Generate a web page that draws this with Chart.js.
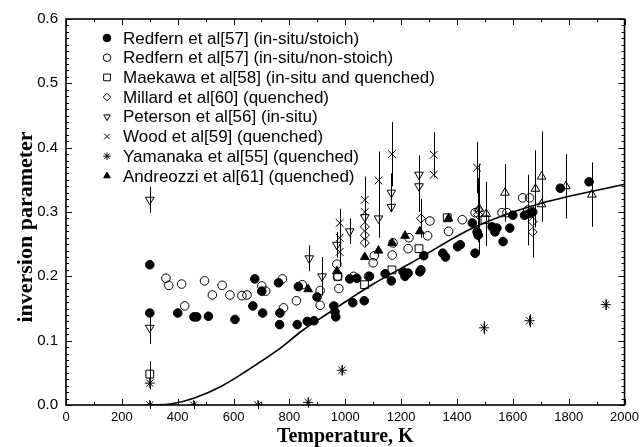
<!DOCTYPE html>
<html><head><meta charset="utf-8">
<script src="https://cdn.jsdelivr.net/npm/chart.js@4/dist/chart.umd.min.js"></script>
<style>html,body{margin:0;padding:0;background:#fff}canvas{display:block}</style>
</head><body>
<canvas id="c" width="644" height="447"></canvas>
<script>
// ---------- tick labels / titles ----------
const xTickValues = [0,200,400,600,800,1000,1200,1400,1600,1800,2000];
const yTickValues = [0.0,0.1,0.2,0.3,0.4,0.5,0.6];
const xTitle = 'Temperature, K';
const yTitle = 'inversion parameter';

// ---------- series ----------
const labels = [
  'Redfern et al[57] (in-situ/stoich)',
  'Redfern et al[57] (in-situ/non-stoich)',
  'Maekawa et al[58] (in-situ and quenched)',
  'Millard et al[60] (quenched)',
  'Peterson et al[56] (in-situ)',
  'Wood et al[59] (quenched)',
  'Yamanaka et al[55] (quenched)',
  'Andreozzi et al[61] (quenched)'
];

const redfernStoichT = [300,300,400,458,468,510,605,669,676,701,704,761,766,765,828,832,864,888,899,959,963,966,1016,1027,1041,1068,1087,1143,1165,1207,1214,1225,1267,1271,1281,1349,1359,1402,1412,1455,1465,1472,1476,1526,1536,1543,1565,1589,1600,1642,1660,1671,1770,1873];
const redfernStoichY = [0.218,0.143,0.143,0.137,0.137,0.138,0.133,0.154,0.196,0.177,0.143,0.190,0.143,0.125,0.125,0.184,0.130,0.131,0.168,0.154,0.145,0.137,0.196,0.159,0.197,0.162,0.200,0.204,0.193,0.207,0.200,0.205,0.207,0.210,0.232,0.236,0.230,0.246,0.249,0.283,0.236,0.269,0.264,0.277,0.269,0.275,0.254,0.275,0.295,0.295,0.298,0.300,0.337,0.347];

const redfernNonT = [358,368,414,425,496,524,559,587,630,648,701,715,775,779,825,846,910,910,970,973,977,1030,1083,1100,1104,1168,1171,1225,1228,1295,1303,1370,1419,1465,1561,1579,1635,1653,1660];
const redfernNonY = [0.197,0.186,0.188,0.154,0.193,0.171,0.186,0.171,0.170,0.171,0.185,0.177,0.196,0.151,0.162,0.187,0.178,0.155,0.219,0.200,0.181,0.200,0.200,0.221,0.232,0.233,0.252,0.243,0.260,0.263,0.286,0.270,0.288,0.299,0.299,0.299,0.322,0.303,0.322];
const redfernNonErr = [0,0,0,0,0,0,0,0,0,0,0,0,0,0,0,0,0,0,0,0,0,0,0,0,0,0,0,0,0,0,0,0,0,0,0,0,0,0.055,0];

const maekawaT = [300,973,1069,1167,1264,1365,1500];
const maekawaY = [0.048,0.200,0.187,0.210,0.243,0.291,0.288];
const maekawaErr = [0.02,0,0,0,0,0,0];

const millardT = [1070,1070,1070,1271,1476,1476,1671,1671];
const millardY = [0.277,0.264,0.252,0.290,0.303,0.296,0.285,0.269];
const millardErr = [0,0,0,0.03,0.05,0,0,0.04];

const petersonT = [300,300,871,917,970,1016,1070,1119,1165,1165,1264,1264];
const petersonY = [0.319,0.120,0.228,0.200,0.249,0.270,0.292,0.290,0.330,0.308,0.358,0.340];
const petersonErr = [0.02,0.025,0.02,0.03,0.02,0.02,0,0.03,0.03,0,0.03,0.04];

const woodT = [980,980,980,1070,1070,1119,1167,1317,1317,1472];
const woodY = [0.283,0.260,0.238,0.319,0.300,0.349,0.390,0.389,0.358,0.369];
const woodErr = [0,0.045,0,0,0.055,0.045,0.05,0.035,0,0.04];

const yamanakaT = [300,300,457,687,867,988,1497,1660,1933];
const yamanakaY = [0.000,0.034,0.000,0.000,0.004,0.054,0.120,0.131,0.156];
const yamanakaErr = [0.006,0.01,0.006,0.006,0.008,0.008,0.01,0.01,0.008];

const andreozziT = [867,970,1070,1119,1168,1214,1267,1370];
const andreozziY = [0.180,0.208,0.230,0.240,0.252,0.263,0.270,0.290];

const openTriT = [1480,1505,1572,1681,1703,1703,1790,1883];
const openTriY = [0.305,0.297,0.330,0.336,0.355,0.312,0.340,0.327];
const openTriErr = [0.07,0.05,0.045,0.06,0.07,0,0.05,0.05];

const curveT = [300,380,460,560,650,760,850,940,1020,1100,1240,1460,1680,2000];
const curveY = [0,0.002,0.011,0.030,0.054,0.086,0.117,0.143,0.166,0.188,0.222,0.276,0.311,0.343];

// ---------- build ----------
const pts = (T,Y) => T.map((t,i)=>({x:t,y:Y[i]}));
const zeros = n => new Array(n).fill(0);
const BLACK = '#000';
const CLEAR = 'rgba(255,255,255,0)';

function sds(label, T, Y, errs, style, fill, radius, rotation, legend){
  return {
    type:'scatter', label, data: pts(T,Y), errs: errs || zeros(T.length),
    pointStyle: style, pointRotation: rotation||0, pointRadius: radius, pointHoverRadius: radius,
    pointBackgroundColor: fill, pointBorderColor: BLACK, pointBorderWidth: 1,
    showLine:false, inLegend: legend, symFill: fill
  };
}

const datasets = [
  sds(labels[0], redfernStoichT, redfernStoichY, null, 'circle', BLACK, 4.3, 0, true),
  sds(labels[1], redfernNonT, redfernNonY, redfernNonErr, 'circle', CLEAR, 4.3, 0, true),
  sds(labels[2], maekawaT, maekawaY, maekawaErr, 'rect', CLEAR, 5.5, 0, true),
  sds(labels[3], millardT, millardY, millardErr, 'rectRot', CLEAR, 4.5, 0, true),
  sds(labels[4], petersonT, petersonY, petersonErr, 'triangle', CLEAR, 5, 180, true),
  sds(labels[5], woodT, woodY, woodErr, 'crossRot', CLEAR, 5.5, 0, true),
  sds(labels[6], yamanakaT, yamanakaY, yamanakaErr, 'star', CLEAR, 5, 0, true),
  sds(labels[7], andreozziT, andreozziY, null, 'triangle', BLACK, 5, 0, true),
  sds('open triangles', openTriT, openTriY, openTriErr, 'triangle', CLEAR, 5, 0, false),
  {
    type:'line', label:'model', data: pts(curveT, curveY), borderColor: BLACK, borderWidth: 1.6,
    pointRadius:0, cubicInterpolationMode:'monotone', fill:false, errs: zeros(curveT.length), inLegend:false
  }
];

// ---------- plugins ----------
const errPlugin = {
  id:'errbars',
  beforeDatasetsDraw(chart){
    const {ctx, scales:{x,y}} = chart;
    ctx.save(); ctx.strokeStyle = BLACK; ctx.lineWidth = 1;
    chart.data.datasets.forEach(ds=>{
      ds.data.forEach((p,j)=>{
        const e = ds.errs ? ds.errs[j] : 0;
        if(!e) return;
        const px = Math.round(x.getPixelForValue(p.x))+0.5;
        ctx.beginPath();
        ctx.moveTo(px, y.getPixelForValue(p.y+e));
        ctx.lineTo(px, y.getPixelForValue(p.y-e));
        ctx.stroke();
      });
    });
    ctx.restore();
  }
};

const X_MINOR = 100, Y_MINOR = 0.01;
const framePlugin = {
  id:'frame',
  afterDatasetsDraw(chart){
    const {ctx, chartArea:a, scales:{x,y}} = chart;
    ctx.save(); ctx.strokeStyle = BLACK;
    ctx.lineWidth = 1;
    ctx.beginPath();
    const nx = Math.round((x.max-x.min)/X_MINOR);
    for(let k=0;k<=nx;k++){
      const v = x.min + k*X_MINOR;
      const px = Math.round(x.getPixelForValue(v))+0.5;
      const L = (k%2===0)?6:3;
      ctx.moveTo(px,a.bottom); ctx.lineTo(px,a.bottom-L);
      ctx.moveTo(px,a.top); ctx.lineTo(px,a.top+L);
    }
    const ny = Math.round((y.max-y.min)/Y_MINOR);
    for(let k=0;k<=ny;k++){
      const v = y.min + k*Y_MINOR;
      const py = Math.round(y.getPixelForValue(v))+0.5;
      const L = (k%10===0)?6:3;
      ctx.moveTo(a.left,py); ctx.lineTo(a.left+L,py);
      ctx.moveTo(a.right,py); ctx.lineTo(a.right-L,py);
    }
    ctx.stroke();
    ctx.lineWidth = 1.6;
    ctx.strokeRect(a.left, a.top, a.right-a.left, a.bottom-a.top);
    ctx.restore();
  }
};

function drawSym(ctx, ds, cx, cy, r){
  ctx.save();
  ctx.strokeStyle = BLACK; ctx.fillStyle = ds.symFill; ctx.lineWidth = 1;
  ctx.beginPath();
  const st = ds.pointStyle;
  if(st==='circle'){ ctx.arc(cx,cy,r,0,Math.PI*2); ctx.fill(); ctx.stroke(); }
  else if(st==='rect'){ const s=r*0.8; ctx.rect(cx-s,cy-s,2*s,2*s); ctx.fill(); ctx.stroke(); }
  else if(st==='rectRot'){ ctx.moveTo(cx,cy-r); ctx.lineTo(cx+r,cy); ctx.lineTo(cx,cy+r); ctx.lineTo(cx-r,cy); ctx.closePath(); ctx.fill(); ctx.stroke(); }
  else if(st==='triangle'){
    const rot = (ds.pointRotation||0)*Math.PI/180;
    for(let i=0;i<3;i++){ const ang = rot + i*2*Math.PI/3; const px=cx+Math.sin(ang)*r, py=cy-Math.cos(ang)*r; if(i===0) ctx.moveTo(px,py); else ctx.lineTo(px,py);}
    ctx.closePath(); ctx.fill(); ctx.stroke();
  }
  else if(st==='crossRot'){ const s=r*0.75; ctx.moveTo(cx-s,cy-s); ctx.lineTo(cx+s,cy+s); ctx.moveTo(cx+s,cy-s); ctx.lineTo(cx-s,cy+s); ctx.stroke(); }
  else if(st==='star'){ const s=r*0.75; ctx.moveTo(cx-s,cy-s); ctx.lineTo(cx+s,cy+s); ctx.moveTo(cx+s,cy-s); ctx.lineTo(cx-s,cy+s); ctx.moveTo(cx,cy-r); ctx.lineTo(cx,cy+r); ctx.moveTo(cx-r,cy); ctx.lineTo(cx+r,cy); ctx.stroke(); }
  ctx.restore();
}

const LEG_X_SYM = 107, LEG_X_TXT = 123, LEG_Y0 = 38, LEG_DY = 19.7;
const legendPlugin = {
  id:'insideLegend',
  afterDraw(chart){
    const ctx = chart.ctx;
    ctx.save();
    ctx.font = '17px "Liberation Sans", Arial, sans-serif';
    ctx.textBaseline = 'middle'; ctx.textAlign = 'left'; ctx.fillStyle = BLACK;
    let i = 0;
    chart.data.datasets.forEach(ds=>{
      if(!ds.inLegend) return;
      const yy = LEG_Y0 + i*LEG_DY;
      drawSym(ctx, ds, LEG_X_SYM, yy, ds.pointStyle==='rect'?4.2:3.8);
      ctx.fillText(ds.label, LEG_X_TXT, yy+1);
      i++;
    });
    // y-axis title (placed as in the reference, slightly below axis centre)
    ctx.font = 'bold 22px "Liberation Serif", "Times New Roman", serif';
    ctx.textAlign = 'center'; ctx.textBaseline = 'middle';
    ctx.translate(26, 227);
    ctx.rotate(-Math.PI/2);
    ctx.fillText(yTitle, 0, 0);
    ctx.restore();
  }
};

new Chart(document.getElementById('c'), {
  data: { datasets },
  options: {
    responsive:false, animation:false, devicePixelRatio:1,
    layout:{ padding:{ top:19, right:13, left:0, bottom:0 } },
    plugins:{ legend:{display:false}, tooltip:{enabled:false} },
    scales:{
      x:{
        type:'linear', min:0, max:2000,
        afterBuildTicks: s => { s.ticks = xTickValues.map(v=>({value:v})); },
        afterFit: s => { s.height = 42; },
        grid:{ display:false, drawTicks:false }, border:{ display:false },
        ticks:{ padding:5, color:BLACK, maxRotation:0, autoSkip:false,
          font:{ family:'"Liberation Sans", Arial, sans-serif', size:13 },
          callback: v => String(v) },
        title:{ display:true, text:xTitle, color:BLACK,
          font:{ family:'"Liberation Serif", "Times New Roman", serif', size:20, weight:'bold', lineHeight:1 },
          padding:{ top:0, bottom:0 } }
      },
      y:{
        type:'linear', min:0, max:0.6,
        afterBuildTicks: s => { s.ticks = yTickValues.map(v=>({value:v})); },
        afterFit: s => { s.width = 66; },
        grid:{ display:false, drawTicks:false }, border:{ display:false },
        ticks:{ padding:8, color:BLACK, autoSkip:false,
          font:{ family:'"Liberation Sans", Arial, sans-serif', size:15 },
          callback: v => Number(v).toFixed(1) },
        title:{ display:false }
      }
    }
  },
  plugins:[errPlugin, framePlugin, legendPlugin]
});
</script>
</body></html>
